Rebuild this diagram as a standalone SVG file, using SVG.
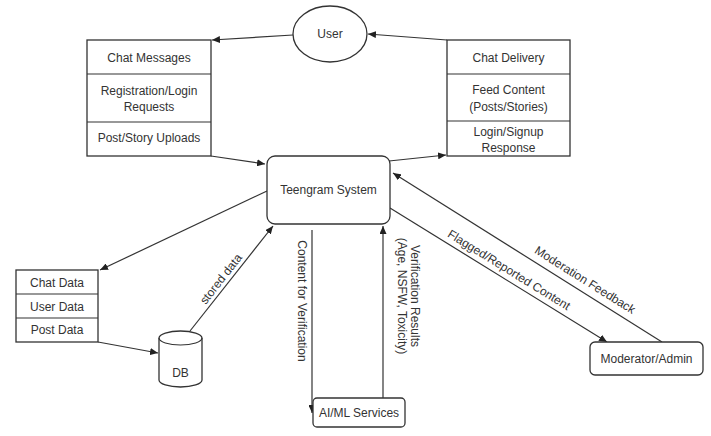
<svg xmlns="http://www.w3.org/2000/svg" width="711" height="436" viewBox="0 0 711 436">
<defs>
<style>
.b{fill:#fff;stroke:#333;stroke-width:1.3}
.c{fill:none;stroke:#333;stroke-width:1.2}
text{font-family:"Liberation Sans",Arial,sans-serif;font-size:12px;fill:#333;text-anchor:middle;dominant-baseline:central}
</style>
<marker id="ah" markerWidth="9" markerHeight="7" refX="8" refY="3.5" orient="auto" markerUnits="userSpaceOnUse">
<path d="M0,0 L8,3.5 L0,7 z" fill="#222"/>
</marker>
</defs>
<rect width="711" height="436" fill="#fff"/>

<g id="connectors">
<line class="c" x1="293" y1="35" x2="212" y2="40" marker-end="url(#ah)"/>
<line class="c" x1="447" y1="40" x2="368" y2="34" marker-end="url(#ah)"/>
<line class="c" x1="211" y1="156" x2="265" y2="164" marker-end="url(#ah)"/>
<line class="c" x1="389" y1="161" x2="446" y2="155" marker-end="url(#ah)"/>
<line class="c" x1="267" y1="191" x2="100" y2="270" marker-end="url(#ah)"/>
<line class="c" x1="98" y1="342" x2="158" y2="353" marker-end="url(#ah)"/>
<line class="c" x1="190" y1="331" x2="273" y2="226" marker-end="url(#ah)"/>
<line class="c" x1="312" y1="230" x2="312" y2="413" marker-end="url(#ah)"/>
<line class="c" x1="383" y1="398" x2="383" y2="226" marker-end="url(#ah)"/>
<line class="c" x1="390" y1="208" x2="607" y2="342" marker-end="url(#ah)"/>
<line class="c" x1="662" y1="342" x2="393" y2="173" marker-end="url(#ah)"/>
<text transform="translate(221,279) rotate(-52)">stored data</text>
<text transform="translate(302,301) rotate(90)">Content for Verification</text>
<g transform="translate(408,296) rotate(90)">
<text x="0" y="-7">Verification Results</text>
<text x="0" y="6">(Age, NSFW, Toxicity)</text>
</g>
<text transform="translate(509,270) rotate(31.7)">Flagged/Reported Content</text>
<text transform="translate(585,280) rotate(32.1)">Moderation Feedback</text>
</g>

<g id="user">
<ellipse class="b" cx="330" cy="34" rx="37" ry="28"/>
<text x="330" y="34">User</text>
</g>

<g id="user-inputs">
<rect class="b" x="87" y="40" width="124" height="116"/>
<line class="c" x1="87" y1="74" x2="211" y2="74"/>
<line class="c" x1="87" y1="122" x2="211" y2="122"/>
<text x="149" y="58">Chat Messages</text>
<text x="149" y="91">Registration/Login</text>
<text x="149" y="107">Requests</text>
<text x="149" y="138">Post/Story Uploads</text>
</g>

<g id="user-outputs">
<rect class="b" x="447" y="40" width="123" height="116"/>
<line class="c" x1="447" y1="74" x2="570" y2="74"/>
<line class="c" x1="447" y1="121" x2="570" y2="121"/>
<text x="508.5" y="58">Chat Delivery</text>
<text x="508.5" y="90">Feed Content</text>
<text x="508.5" y="107">(Posts/Stories)</text>
<text x="508.5" y="132">Login/Signup</text>
<text x="508.5" y="148">Response</text>
</g>

<g id="system">
<rect class="b" x="267" y="156" width="123" height="68" rx="8"/>
<text x="328.5" y="190">Teengram System</text>
</g>

<g id="data-stores">
<rect class="b" x="16" y="270" width="82" height="72"/>
<line class="c" x1="16" y1="294" x2="98" y2="294"/>
<line class="c" x1="16" y1="318" x2="98" y2="318"/>
<text x="57" y="283">Chat Data</text>
<text x="57" y="307">User Data</text>
<text x="57" y="330">Post Data</text>
</g>

<g id="db">
<path class="b" d="M159,338 A21.5,7 0 0 1 202,338 L202,380 A21.5,7 0 0 1 159,380 Z"/>
<path class="c" d="M159,338 A21.5,7 0 0 0 202,338"/>
<text x="180.5" y="373">DB</text>
</g>

<g id="aiml">
<rect class="b" x="313" y="398" width="92" height="29" rx="4"/>
<text x="359" y="412.5">AI/ML Services</text>
</g>

<g id="moderator">
<rect class="b" x="590" y="342" width="113" height="33" rx="5"/>
<text x="646.5" y="358.5">Moderator/Admin</text>
</g>
</svg>
